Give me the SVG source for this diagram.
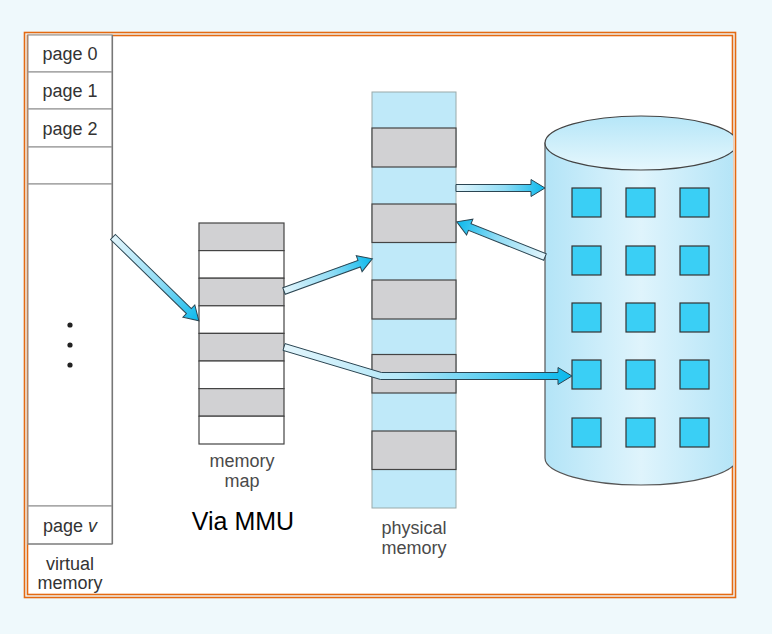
<svg xmlns="http://www.w3.org/2000/svg" width="772" height="634" viewBox="0 0 772 634">
<defs>
<style>
.lbl{font-family:"Liberation Sans",Arial,sans-serif;font-size:18px;fill:#333;text-anchor:middle}
.cap{font-family:"Liberation Sans",Arial,sans-serif;font-size:18px;fill:#4a4a4a;text-anchor:middle}
.vcell{fill:#fff;stroke:#999;stroke-width:1.2}
.gray{fill:#d1d1d3;stroke:#444;stroke-width:1.2}
.white{fill:#fff;stroke:#444;stroke-width:1.2}
.blue{fill:#bfe9f9;stroke:#9aa;stroke-width:1}
.sq{fill:#3acff5;stroke:#333;stroke-width:1.2}
.arr{fill:url(#ag);stroke:#2b4552;stroke-width:1;stroke-linejoin:miter}
</style>
<linearGradient id="ag" x1="0" y1="0" x2="1" y2="0">
<stop offset="0" stop-color="#e2f5fc"/>
<stop offset="0.55" stop-color="#8fdcf5"/>
<stop offset="1" stop-color="#0ab8ec"/>
</linearGradient>
<linearGradient id="ag3" gradientUnits="userSpaceOnUse" x1="284" y1="0" x2="572" y2="0">
<stop offset="0" stop-color="#e2f5fc"/>
<stop offset="0.4" stop-color="#b5e8f8"/>
<stop offset="1" stop-color="#0ab8ec"/>
</linearGradient>
<linearGradient id="cylg" x1="0" y1="0" x2="1" y2="0">
<stop offset="0" stop-color="#b3e4f7"/>
<stop offset="0.5" stop-color="#dff4fc"/>
<stop offset="1" stop-color="#b3e4f7"/>
</linearGradient>
<linearGradient id="topg" x1="0" y1="0" x2="0" y2="1">
<stop offset="0" stop-color="#b5e6f8"/>
<stop offset="1" stop-color="#e6f7fd"/>
</linearGradient>
<clipPath id="clipc"><rect x="28" y="36" width="705" height="558"/></clipPath>
</defs>
<rect width="772" height="634" fill="#eff9fc"/>
<rect x="24.5" y="32.5" width="711" height="565" fill="none" stroke="#e46a12" stroke-width="1.6"/>
<rect x="27.5" y="35.5" width="705" height="559" fill="#fff" stroke="#e46a12" stroke-width="1.6"/>

<g id="virtual-memory">
<rect class="vcell" x="28" y="35" width="84" height="37"/>
<rect class="vcell" x="28" y="72" width="84" height="37"/>
<rect class="vcell" x="28" y="109" width="84" height="38"/>
<rect class="vcell" x="28" y="147" width="84" height="37"/>
<rect class="vcell" x="28" y="184" width="84" height="322"/>
<rect class="vcell" x="28" y="506" width="84" height="38"/>
<line x1="112.5" y1="35" x2="112.5" y2="544" stroke="#777" stroke-width="1.2"/>
<line x1="28" y1="544" x2="112.5" y2="544" stroke="#777" stroke-width="1.2"/>
<text class="lbl" x="70" y="60">page 0</text>
<text class="lbl" x="70" y="97">page 1</text>
<text class="lbl" x="70" y="135">page 2</text>
<circle cx="70" cy="325" r="2.6" fill="#222"/>
<circle cx="70" cy="345" r="2.6" fill="#222"/>
<circle cx="70" cy="365" r="2.6" fill="#222"/>
<text class="lbl" x="70" y="532">page <tspan font-style="italic">v</tspan></text>
<text class="lbl" x="70" y="570">virtual</text>
<text class="lbl" x="70" y="589">memory</text>
</g>

<g id="memory-map">
<rect class="gray" x="199" y="223" width="85" height="27.6"/>
<rect class="white" x="199" y="250.6" width="85" height="27.6"/>
<rect class="gray" x="199" y="278.2" width="85" height="27.6"/>
<rect class="white" x="199" y="305.8" width="85" height="27.6"/>
<rect class="gray" x="199" y="333.4" width="85" height="27.6"/>
<rect class="white" x="199" y="361" width="85" height="27.6"/>
<rect class="gray" x="199" y="388.6" width="85" height="27.6"/>
<rect class="white" x="199" y="416.2" width="85" height="27.8"/>
<text class="cap" x="242" y="467">memory</text>
<text class="cap" x="242" y="487">map</text>
</g>

<text id="via-mmu" x="243" y="530" font-family="Liberation Sans,Arial,sans-serif" font-size="25" fill="#000" text-anchor="middle">Via MMU</text>

<g id="physical-memory">
<rect class="blue" x="372" y="92" width="84" height="416"/>
<rect class="gray" x="372" y="128" width="84" height="39"/>
<rect class="gray" x="372" y="204" width="84" height="38.5"/>
<rect class="gray" x="372" y="280" width="84" height="39"/>
<rect class="gray" x="372" y="354.5" width="84" height="38.5"/>
<rect class="gray" x="372" y="431" width="84" height="38.5"/>
<text class="cap" x="414" y="534">physical</text>
<text class="cap" x="414" y="554">memory</text>
</g>

<g id="disk" clip-path="url(#clipc)">
<path d="M545,143 L545,458 A96,27 0 0 0 737,458 L737,143 Z" fill="url(#cylg)" stroke="#555" stroke-width="1.2"/>
<ellipse cx="641" cy="143" rx="96" ry="27" fill="url(#topg)" stroke="#444" stroke-width="1.2"/>
<rect class="sq" x="572" y="188" width="29" height="29"/>
<rect class="sq" x="626" y="188" width="29" height="29"/>
<rect class="sq" x="680" y="188" width="29" height="29"/>
<rect class="sq" x="572" y="246" width="29" height="29"/>
<rect class="sq" x="626" y="246" width="29" height="29"/>
<rect class="sq" x="680" y="246" width="29" height="29"/>
<rect class="sq" x="572" y="303" width="29" height="29"/>
<rect class="sq" x="626" y="303" width="29" height="29"/>
<rect class="sq" x="680" y="303" width="29" height="29"/>
<rect class="sq" x="572" y="360" width="29" height="29"/>
<rect class="sq" x="626" y="360" width="29" height="29"/>
<rect class="sq" x="680" y="360" width="29" height="29"/>
<rect class="sq" x="572" y="418" width="29" height="29"/>
<rect class="sq" x="626" y="418" width="29" height="29"/>
<rect class="sq" x="680" y="418" width="29" height="29"/>
</g>

<g id="connectors">
<path class="arr" transform="translate(113,237) rotate(44.3)" d="M0,-3.5 L106,-3.5 L106,-8.5 L120,0 L106,8.5 L106,3.5 L0,3.5 Z"/>
<path class="arr" transform="translate(284,291) rotate(-20)" d="M0,-3.5 L80,-3.5 L80,-8.5 L94,0 L80,8.5 L80,3.5 L0,3.5 Z"/>
<path d="M285,343.6 L381.5,372.5 L558,372.5 L558,367.5 L572,376 L558,384.5 L558,379.5 L380.5,379.5 L283,350.4 Z" fill="url(#ag3)" stroke="#2b4552" stroke-width="1"/>
<path class="arr" transform="translate(456,188)" d="M0,-3.5 L75,-3.5 L75,-8.5 L89,0 L75,8.5 L75,3.5 L0,3.5 Z"/>
<path class="arr" transform="translate(545,257) rotate(201.7)" d="M0,-3.5 L81,-3.5 L81,-8.5 L95,0 L81,8.5 L81,3.5 L0,3.5 Z"/>
</g>
</svg>
